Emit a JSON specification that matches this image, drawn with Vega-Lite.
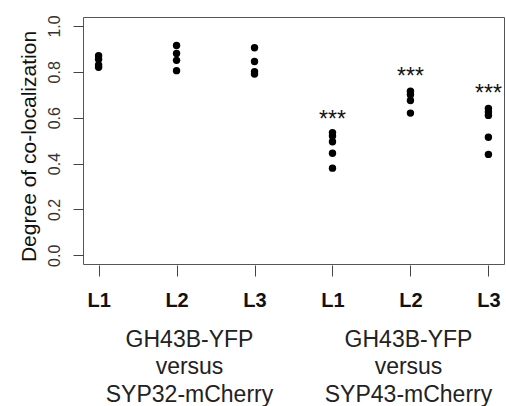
{
  "$schema": "https://vega.github.io/schema/vega-lite/v6.json",
  "width": 421,
  "height": 247,
  "autosize": {"type": "none"},
  "padding": {"left": 83, "top": 17, "right": 2, "bottom": 142},
  "config": {"view": {"stroke": "#555", "strokeWidth": 1}, "font": "Liberation Sans"},
  "datasets": {
    "points": [
      {"sample": "SYP32 L1", "value": 0.87},
      {"sample": "SYP32 L1", "value": 0.855},
      {"sample": "SYP32 L1", "value": 0.83},
      {"sample": "SYP32 L1", "value": 0.82},
      {"sample": "SYP32 L2", "value": 0.915},
      {"sample": "SYP32 L2", "value": 0.88},
      {"sample": "SYP32 L2", "value": 0.85},
      {"sample": "SYP32 L2", "value": 0.805},
      {"sample": "SYP32 L3", "value": 0.905},
      {"sample": "SYP32 L3", "value": 0.845},
      {"sample": "SYP32 L3", "value": 0.8},
      {"sample": "SYP32 L3", "value": 0.79},
      {"sample": "SYP43 L1", "value": 0.535},
      {"sample": "SYP43 L1", "value": 0.52},
      {"sample": "SYP43 L1", "value": 0.495},
      {"sample": "SYP43 L1", "value": 0.445},
      {"sample": "SYP43 L1", "value": 0.38},
      {"sample": "SYP43 L2", "value": 0.715},
      {"sample": "SYP43 L2", "value": 0.7},
      {"sample": "SYP43 L2", "value": 0.675},
      {"sample": "SYP43 L2", "value": 0.62},
      {"sample": "SYP43 L3", "value": 0.64},
      {"sample": "SYP43 L3", "value": 0.625},
      {"sample": "SYP43 L3", "value": 0.61},
      {"sample": "SYP43 L3", "value": 0.515},
      {"sample": "SYP43 L3", "value": 0.44}
    ],
    "stars": [
      {"sample": "SYP43 L1", "value": 0.588, "label": "***"},
      {"sample": "SYP43 L2", "value": 0.777, "label": "***"},
      {"sample": "SYP43 L3", "value": 0.704, "label": "***"}
    ],
    "groups": [
      {"group": "GH43B-YFP|versus|SYP32-mCherry"},
      {"group": "GH43B-YFP|versus|SYP43-mCherry"}
    ]
  },
  "layer": [
    {
      "layer": [
        {
          "data": {"name": "points"},
          "mark": {"type": "circle", "size": 55, "color": "black", "opacity": 1},
          "encoding": {
            "x": {
              "field": "sample", "type": "nominal",
              "scale": {"type": "point", "padding": 0.2, "domain": ["SYP32 L1", "SYP32 L2", "SYP32 L3", "SYP43 L1", "SYP43 L2", "SYP43 L3"]},
              "axis": {"orient": "bottom", "title": null, "labelExpr": "split(datum.value,' ')[1]", "labelFontSize": 20, "labelFontWeight": "bold", "labelColor": "#111", "labelAngle": 0, "labelBaseline": "top", "labelPadding": 14, "tickSize": 11, "offset": 1, "domain": false, "grid": false, "tickColor": "#444"}
            },
            "y": {
              "field": "value", "type": "quantitative",
              "scale": {"domain": [-0.038, 1.039], "nice": false, "zero": false},
              "axis": {"title": "Degree of co-localization", "values": [0, 0.2, 0.4, 0.6, 0.8, 1], "format": ".1f", "grid": false, "domain": false, "tickSize": 10, "tickColor": "#444", "labelAngle": 270, "labelAlign": "center", "labelBaseline": "alphabetic", "labelPadding": 14, "labelFontSize": 16, "labelColor": "#333", "titleFontSize": 21, "titleFontWeight": "normal", "titleColor": "#111", "titleX": -48, "titleY": 129, "titleBaseline": "alphabetic", "titleAngle": 270, "titleAlign": "center"}
            }
          }
        },
        {
          "data": {"name": "stars"},
          "mark": {"type": "text", "fontSize": 23, "baseline": "middle", "color": "#111"},
          "encoding": {
            "x": {"field": "sample", "type": "nominal"},
            "y": {"field": "value", "type": "quantitative"},
            "text": {"field": "label"}
          }
        }
      ]
    },
    {
      "data": {"name": "groups"},
      "mark": {"type": "point", "opacity": 0},
      "encoding": {
        "x": {
          "field": "group", "type": "nominal", "sort": null,
          "scale": {"type": "point", "range": [106, 325], "padding": 0},
          "axis": {"orient": "bottom", "title": null, "domain": false, "ticks": false, "tickSize": 0, "labelPadding": 64, "labelFontSize": 23, "labelLineHeight": 27.5, "labelAngle": 0, "labelExpr": "split(datum.value,'|')", "labelBaseline": "top", "labelColor": "#222", "grid": false}
        }
      }
    }
  ],
  "resolve": {"scale": {"x": "independent"}, "axis": {"x": "independent"}}
}
